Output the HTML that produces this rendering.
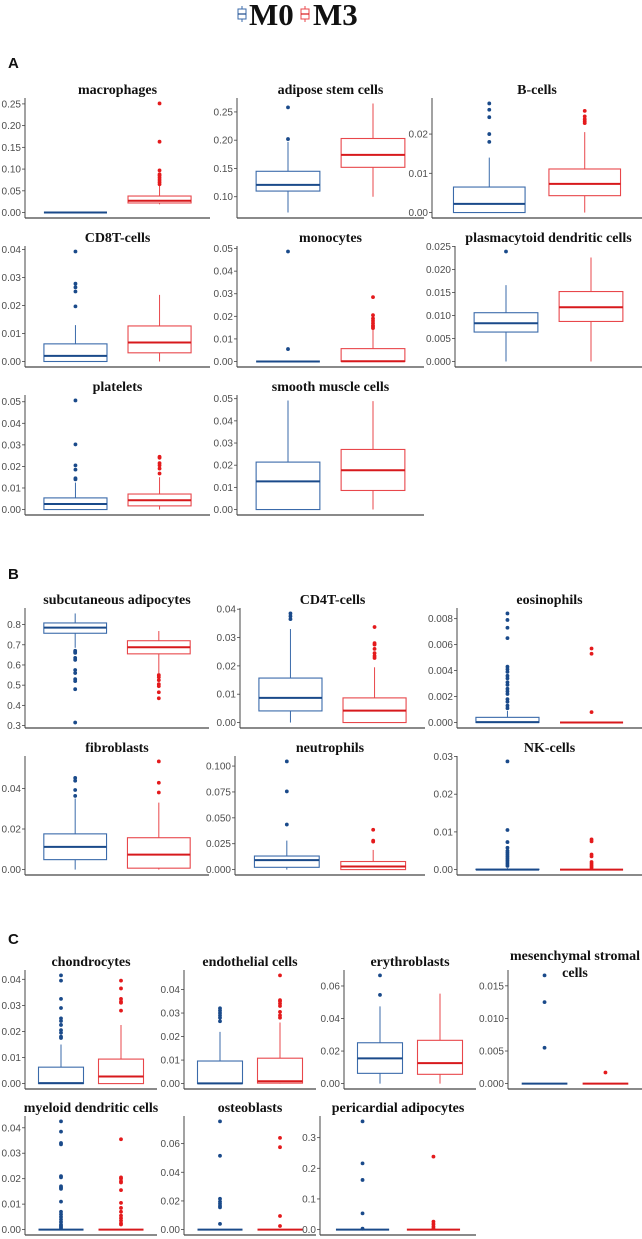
<!DOCTYPE html>
<html><head><meta charset="utf-8"><style>
html,body{margin:0;padding:0;background:#fff;}
svg{display:block;}
.tl{font-family:"Liberation Sans",sans-serif;font-size:10px;fill:#4d4d4d;}
.tt{font-family:"Liberation Serif",serif;font-size:14px;font-weight:bold;fill:#111;}
.sec{font-family:"Liberation Sans",sans-serif;font-size:15px;font-weight:bold;fill:#111;}
</style></head><body>
<svg id="fig" width="642" height="1239" viewBox="0 0 642 1239" xmlns="http://www.w3.org/2000/svg">
<g>
  <g>
    <rect x="238" y="9" width="8" height="10" fill="none" stroke="#3a6aaa" stroke-width="1"/>
    <line x1="238" y1="14" x2="246" y2="14" stroke="#1a4a8a" stroke-width="1.2"/>
    <line x1="242" y1="6" x2="242" y2="9" stroke="#3a6aaa"/><line x1="242" y1="19" x2="242" y2="22" stroke="#3a6aaa"/>
    <text x="249" y="25" font-family="Liberation Serif,serif" font-weight="bold" font-size="31" fill="#111">M0</text>
  </g>
  <g>
    <rect x="301" y="9" width="8" height="10" fill="none" stroke="#e8474b" stroke-width="1"/>
    <line x1="301" y1="14" x2="309" y2="14" stroke="#d7191c" stroke-width="1.2"/>
    <line x1="305" y1="6" x2="305" y2="9" stroke="#e8474b"/><line x1="305" y1="19" x2="305" y2="22" stroke="#e8474b"/>
    <text x="313" y="25" font-family="Liberation Serif,serif" font-weight="bold" font-size="31" fill="#111">M3</text>
  </g>
</g>
<text class="sec" x="8" y="68">A</text>
<text class="sec" x="8" y="579">B</text>
<text class="sec" x="8" y="944">C</text>
</svg>
<script>
const titles = ["macrophages","adipose stem cells","B-cells","CD8T-cells","monocytes","plasmacytoid dendritic cells","platelets","smooth muscle cells","subcutaneous adipocytes","CD4T-cells","eosinophils","fibroblasts","neutrophils","NK-cells","chondrocytes","endothelial cells","erythroblasts","mesenchymal stromal|cells","myeloid dendritic cells","osteoblasts","pericardial adipocytes"];
// stats: [q1, median, q3, lowerWhisker, upperWhisker]
const statsM0 = [
 [0,0,0,0,0],[.110,.121,.145,.072,.197],[0,.0022,.0065,0,.014],
 [0,.002,.0063,0,.013],[0,0,0,0,0],[.0064,.0083,.0106,0,.0166],
 [0,.0026,.0054,0,.0125],[0,.0127,.0214,0,.0492],
 [.757,.785,.808,.685,.855],[.0041,.0087,.0157,0,.033],[0,.00003,.0004,0,.0009],
 [.0049,.0112,.0176,0,.035],[.0022,.0091,.0131,0,.028],[0,0,.0001,0,.0004],
 [0,.0002,.0063,0,.015],[0,.0001,.0096,0,.022],[.0063,.0155,.0251,0,.0475],[0,0,0,0,0],
 [0,0,0,0,0],[0,0,0,0,0],[0,0,0,0,0]];
const statsM3 = [
 [.022,.027,.038,.019,.062],[.152,.174,.203,.100,.265],[.0043,.0073,.0111,0,.0205],
 [.0031,.0068,.0127,0,.0238],[0,.0001,.0057,0,.014],[.0087,.0118,.0152,0,.0226],
 [.0017,.0043,.0072,0,.015],[.0086,.0177,.0271,0,.0489],
 [.655,.688,.72,.56,.768],[0,.0042,.0087,0,.0195],[0,0,0,0,0],
 [.0007,.0074,.0157,0,.033],[0,.003,.0078,0,.019],[0,0,0,0,0],
 [0,.0027,.0094,0,.0225],[.0002,.001,.0108,0,.026],[.0057,.0126,.0266,0,.0553],[0,0,0,0,0],
 [0,0,0,0,0],[0,0,0,0,0],[0,0,0,0,0]];
const outM0 = [
 [],[.202,.258],[.018,.020,.0243,.0262,.0278],
 [.0197,.025,.0265,.0278,.0393],[.0055,.0487],[.0239],
 [.014,.0145,.0185,.0205,.0302,.0506],[],
 [.67,.665,.66,.635,.625,.575,.56,.53,.52,.48,.315],[.0365,.0375,.0385],
 [.0011,.0013,.0016,.0018,.0022,.0024,.0026,.0029,.0031,.0034,.0036,.0039,.0041,.0043,.0065,.0073,.0079,.0084],
 [.0363,.0392,.0438,.0452],[.0435,.0755,.1045],[.001,.0015,.002,.0025,.003,.0035,.004,.0045,.005,.0058,.0073,.0105,.0287],
 [.0175,.018,.0195,.0205,.0225,.024,.025,.029,.0325,.0395,.0415],[.0265,.028,.029,.030,.031,.032],[.0545,.0665],[.0055,.0125,.0166],
 [.0005,.001,.0015,.002,.003,.004,.005,.006,.007,.011,.016,.0165,.017,.0205,.021,.0335,.034,.0385,.0425],
 [.004,.0155,.0165,.018,.0195,.0215,.0515,.0755],[.003,.053,.162,.216,.353]];
const outM3 = [
 [.065,.07,.075,.08,.085,.088,.097,.163,.251],[],[.0228,.0233,.0238,.0245,.0259],
 [],[.0148,.0155,.016,.017,.018,.019,.0205,.0285],[],
 [.0167,.019,.0205,.0215,.024,.0245],[],
 [.55,.54,.525,.505,.495,.465,.435],[.0228,.0235,.0245,.026,.0275,.028,.0337],[.0008,.0053,.0057],
 [.038,.0428,.0533],[.027,.028,.0385],[.0005,.001,.0015,.002,.0035,.004,.0075,.008],
 [.028,.031,.0315,.0325,.0365,.0395],[.028,.029,.0305,.033,.034,.035,.0355,.046],[],[.0017],
 [.002,.0025,.0035,.0045,.0055,.007,.0085,.0105,.0155,.0185,.019,.02,.0205,.0355],
 [.0025,.0095,.0575,.064],[.004,.01,.018,.026,.238]];
const tickVals = [
 [0,.05,.1,.15,.2,.25],[.1,.15,.2,.25],[0,.01,.02],
 [0,.01,.02,.03,.04],[0,.01,.02,.03,.04,.05],[0,.005,.01,.015,.02,.025],
 [0,.01,.02,.03,.04,.05],[0,.01,.02,.03,.04,.05],
 [.3,.4,.5,.6,.7,.8],[0,.01,.02,.03,.04],[0,.002,.004,.006,.008],
 [0,.02,.04],[0,.025,.05,.075,.1],[0,.01,.02,.03],
 [0,.01,.02,.03,.04],[0,.01,.02,.03,.04],[0,.02,.04,.06],[0,.005,.01,.015],
 [0,.01,.02,.03,.04],[0,.02,.04,.06],[0,.1,.2,.3]];
const tickLabels = [
 ["0.00","0.05","0.10","0.15","0.20","0.25"],["0.10","0.15","0.20","0.25"],["0.00","0.01","0.02"],
 ["0.00","0.01","0.02","0.03","0.04"],["0.00","0.01","0.02","0.03","0.04","0.05"],["0.000","0.005","0.010","0.015","0.020","0.025"],
 ["0.00","0.01","0.02","0.03","0.04","0.05"],["0.00","0.01","0.02","0.03","0.04","0.05"],
 ["0.3","0.4","0.5","0.6","0.7","0.8"],["0.00","0.01","0.02","0.03","0.04"],["0.000","0.002","0.004","0.006","0.008"],
 ["0.00","0.02","0.04"],["0.000","0.025","0.050","0.075","0.100"],["0.00","0.01","0.02","0.03"],
 ["0.00","0.01","0.02","0.03","0.04"],["0.00","0.01","0.02","0.03","0.04"],["0.00","0.02","0.04","0.06"],["0.000","0.005","0.010","0.015"],
 ["0.00","0.01","0.02","0.03","0.04"],["0.00","0.02","0.04","0.06"],["0.0","0.1","0.2","0.3"]];
// layout: [axisLeft, right, top, axisBottom]
const layout = [
 [25,210,98,218],[237,424,98,218],[432,642,98,218],
 [25,210,246,367],[237,424,246,367],[455,642,246,367],
 [25,210,395,515],[237,424,395,515],
 [25,209,608,728],[240,425,608,728],[457,642,608,728],
 [25,209,756,875],[235,425,756,875],[457,642,756,875],
 [25,157,970,1089],[184,316,970,1089],[344,476,970,1089],[508,642,970,1089],
 [25,157,1116,1235],[184,316,1116,1235],[320,476,1116,1235]];

const NS="http://www.w3.org/2000/svg";
const svg=document.getElementById('fig');
function mk(tag,attrs,parent){const e=document.createElementNS(NS,tag);for(const k in attrs)e.setAttribute(k,attrs[k]);parent.appendChild(e);return e;}
const slug=s=>s.replace('|',' ').toLowerCase().replace(/[^a-z0-9]+/g,'-').replace(/-$/,'');

titles.forEach((t,i)=>{
  const [L,R,T,B]=layout[i];
  const g=mk('g',{},svg);
  
  
  const all=[...statsM0[i],...statsM3[i],...outM0[i],...outM3[i]];
  let mn=Math.min(...all), mx=Math.max(...all);
  if(mx===mn){mx=mn+1;}
  const pad=(mx-mn)*0.05; const d0=mn-pad, d1=mx+pad;
  const y=v=>B-(v-d0)/(d1-d0)*(B-T);
  const xs=c=>L+(R-L)*((c-0.4)/2.2);
  const bw=(R-L)*0.75/2.2;
  const lines=t.split('|');
  const tcx=(L+R)/2;
  lines.forEach((ln,k)=>{
    const tx=mk('text',{class:'tt',x:tcx,y:(lines.length>1?T-10+k*17:T-4),'text-anchor':'middle'},g);
    tx.textContent=ln;
    
    
  });
  const ya=mk('line',{x1:L,y1:T,x2:L,y2:B,stroke:'#444','stroke-width':1},g);
  
  
  const xa=mk('line',{x1:L,y1:B,x2:R,y2:B,stroke:'#444','stroke-width':1.2},g);
  
  
  tickVals[i].forEach((v,k)=>{
    const yy=y(v);
    mk('line',{x1:L-3,y1:yy,x2:L,y2:yy,stroke:'#444','stroke-width':0.8},g);
    const tl=mk('text',{class:'tl',x:L-4,y:yy+3.5,'text-anchor':'end'},g);
    tl.textContent=tickLabels[i][k];
    
    
  });
  [[statsM0[i],outM0[i],1,'#3a6aaa','#1a4a8a','#1a4a8a','m0'],[statsM3[i],outM3[i],2,'#e8474b','#d7191c','#e41a1c','m3']].forEach(([s,o,c,col,medc,outc,nm])=>{
    const bg=mk('g',{},g);
    
    
    const cx=xs(c);
    const [q1,md,q3,lo,hi]=s;
    mk('line',{x1:cx,y1:y(q3),x2:cx,y2:y(hi),stroke:col,'stroke-width':1},bg);
    mk('line',{x1:cx,y1:y(q1),x2:cx,y2:y(lo),stroke:col,'stroke-width':1},bg);
    mk('rect',{x:cx-bw/2,y:y(q3),width:bw,height:Math.max(0,y(q1)-y(q3)),fill:'#fff',stroke:col,'stroke-width':1.1},bg);
    mk('line',{x1:cx-bw/2,y1:y(md),x2:cx+bw/2,y2:y(md),stroke:medc,'stroke-width':2},bg);
    o.forEach(v=>{
      const p=mk('circle',{cx:cx,cy:y(v),r:1.9,fill:outc},bg);
      
      
    });
  });
});
</script>
</body></html>
